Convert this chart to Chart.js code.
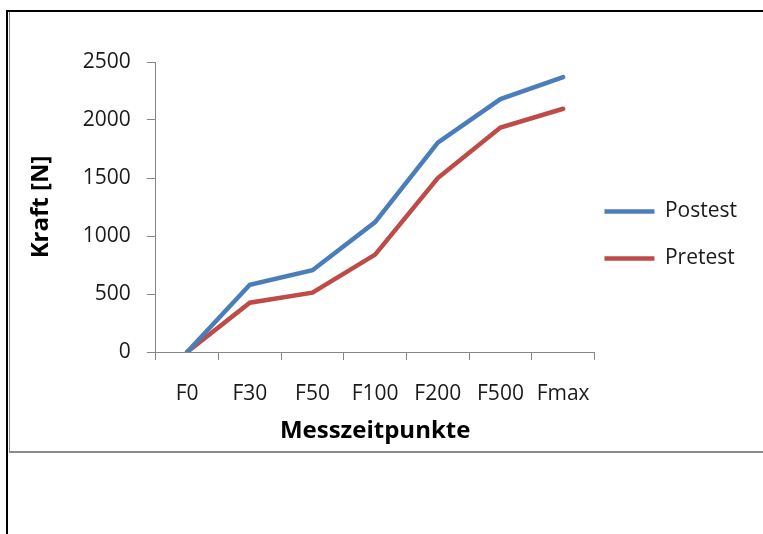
<!DOCTYPE html>
<html>
<head>
<meta charset="utf-8">
<script src="https://cdn.jsdelivr.net/npm/chart.js@4"></script>
<style>
  html, body { margin: 0; padding: 0; background: #fff; }
  body { width: 763px; height: 534px; position: relative; overflow: hidden; }
  #frame { position: absolute; left: 6px; top: 10px; width: 760px; height: 530px;
           border-left: 2px solid #000; border-top: 2px solid #000; }
  #box { position: absolute; left: 9px; top: 12px; width: 754px; height: 441px;
         border-left: 1px solid #8c8c8c; border-bottom: 2px solid #8c8c8c; box-sizing: border-box; }
  #wrap { position: absolute; left: 10px; top: 12px; width: 753px; height: 439px; }
</style>
</head>
<body>
<div id="frame"></div>
<div id="box"></div>
<div id="wrap"><canvas id="chart"></canvas></div>
<script>
// Messzeitpunkte und Kraftwerte
const categories = ["F0", "F30", "F50", "F100", "F200", "F500", "Fmax"];
const postest = [0, 580, 705, 1120, 1805, 2180, 2370];
const pretest = [0, 425, 512, 840, 1500, 1935, 2097];
const yTicks = [0, 500, 1000, 1500, 2000, 2500];

const fontFamily = "'Open Sans', sans-serif";

// Legende etwas nach links und oben schieben (wie im Original)
const legendShift = {
  id: "legendShift",
  afterLayout(chart) {
    const lg = chart.legend;
    lg.left -= 16;
    lg.right -= 16;
    lg.top -= 19;
    lg.bottom -= 19;
  }
};

const ctx = document.querySelector("#chart").getContext("2d");
const chart = new Chart(ctx, {
  type: "line",
  data: {
    labels: categories,
    datasets: [
      {
        label: "Postest",
        data: postest,
        borderColor: "#4A7EBB",
        backgroundColor: "#4A7EBB",
        borderWidth: 4.5,
        borderCapStyle: "round",
        pointRadius: 0,
        tension: 0
      },
      {
        label: "Pretest",
        data: pretest,
        borderColor: "#BE4B48",
        backgroundColor: "#BE4B48",
        borderWidth: 4.5,
        borderCapStyle: "round",
        pointRadius: 0,
        tension: 0
      }
    ]
  },
  plugins: [legendShift],
  options: {
    responsive: true,
    maintainAspectRatio: false,
    animation: false,
    layout: {
      padding: { top: 50, bottom: 5, left: 17, right: 0 }
    },
    plugins: {
      tooltip: { enabled: false },
      legend: {
        position: "right",
        labels: {
          usePointStyle: true,
          pointStyle: "line",
          pointStyleWidth: 50,
          boxHeight: 21,
          padding: 26,
          color: "#1a1a1a",
          font: { family: fontFamily, size: 21 }
        }
      }
    },
    scales: {
      x: {
        offset: true,
        grid: {
          offset: true,
          drawOnChartArea: false,
          drawTicks: true,
          tickLength: 8,
          color: "#868686"
        },
        border: { color: "#868686", width: 1 },
        ticks: {
          padding: 21,
          color: "#1a1a1a",
          font: { family: fontFamily, size: 21 },
          maxRotation: 0,
          autoSkip: false
        },
        title: {
          display: true,
          text: "Messzeitpunkte",
          color: "#000",
          padding: { top: -10, bottom: 0 },
          font: { family: fontFamily, size: 24, weight: "bold" }
        }
      },
      y: {
        min: 0,
        max: 2500,
        afterBuildTicks: (axis) => {
          axis.ticks = yTicks.map((v) => ({ value: v }));
        },
        grid: {
          drawOnChartArea: false,
          drawTicks: true,
          tickLength: 9,
          color: "#868686"
        },
        border: { color: "#868686", width: 1 },
        ticks: {
          padding: 16,
          color: "#1a1a1a",
          font: { family: fontFamily, size: 21 },
          callback: (value) => String(value)
        },
        title: {
          display: true,
          text: "Kraft [N]",
          color: "#000",
          padding: { top: 0, bottom: 11 },
          font: { family: fontFamily, size: 24, weight: "bold" }
        }
      }
    }
  }
});
</script>
</body>
</html>
